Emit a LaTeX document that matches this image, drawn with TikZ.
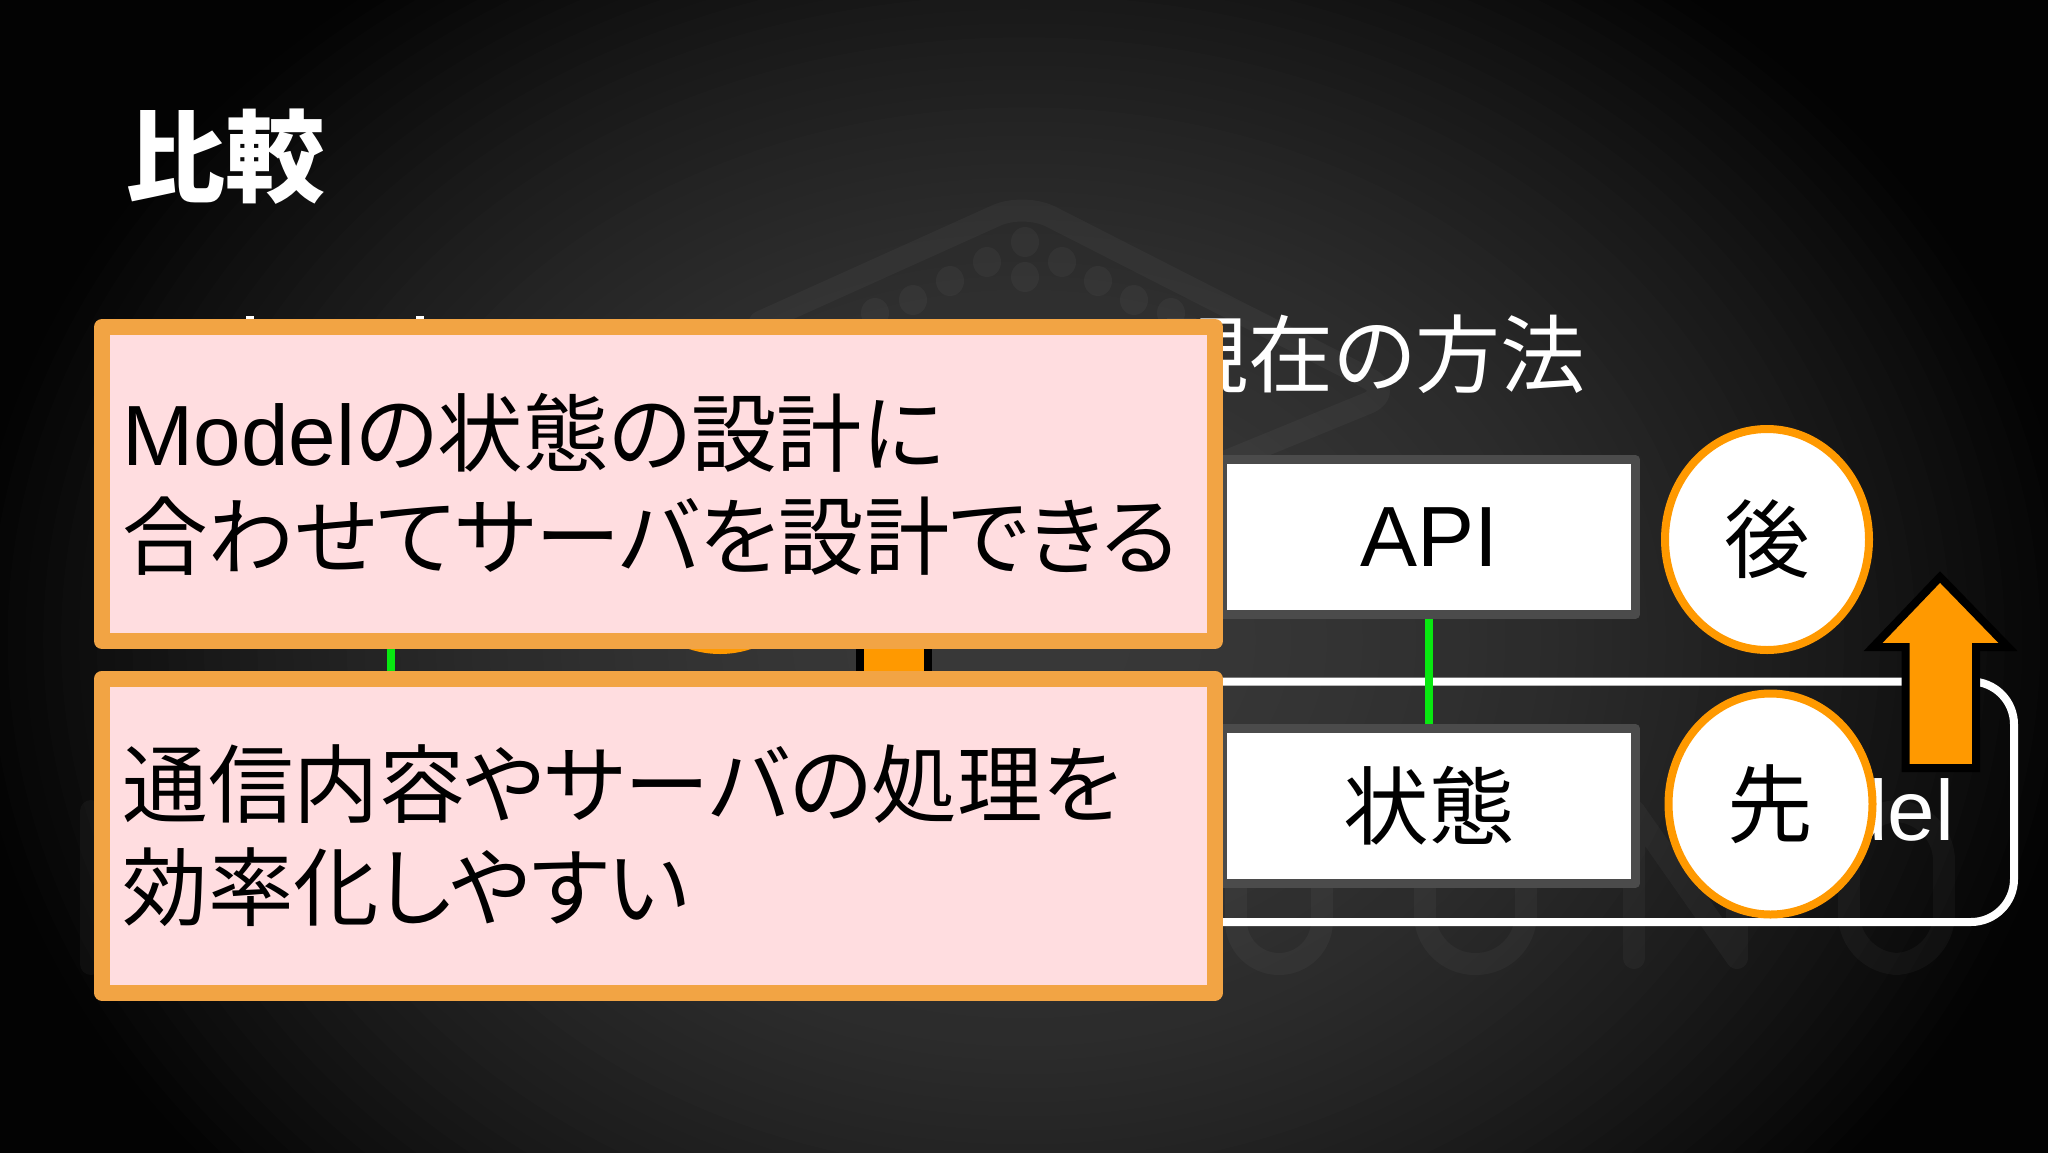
\documentclass[tikz,border=0pt]{standalone}
\usepackage{fontspec}
\setmainfont{Liberation Sans}
\newfontfamily\cjk[RawFeature=+palt]{Noto Sans CJK JP}
\usetikzlibrary{shapes.geometric}
\definecolor{boxorange}{HTML}{F2A444}
\definecolor{boxpink}{HTML}{FFDDE0}
\definecolor{markorange}{HTML}{FF9900}
\definecolor{linkgreen}{HTML}{08E810}
\definecolor{boxgray}{HTML}{4B4B4B}
\tikzset{
  bigtext/.style={font=\fontsize{85.5}{103}\selectfont},
  notebox/.style={draw=boxorange,fill=boxpink,line width=16pt,line join=round,rectangle,
    inner sep=0pt,inner xsep=20.5pt,text width=1072pt,minimum height=314pt,align=left,bigtext},
  layerbox/.style={draw=boxgray,fill=white,line width=9pt,line join=round,rectangle,
    inner sep=0pt,outer sep=4.5pt,minimum width=413pt,minimum height=154.5pt,text=black,bigtext},
  orderball/.style={draw=markorange,fill=white,line width=8pt,ellipse,inner sep=0pt,
    minimum width=204pt,minimum height=221pt,text=black,bigtext},
  linkline/.style={draw=linkgreen,line width=8.5pt},
  uparrow/.style={draw=black,fill=markorange,line width=8pt,miter limit=10},
  ghost/.style={draw=white,draw opacity=.035,line width=22pt,line cap=round,line join=round}
}
\begin{document}
\begin{tikzpicture}[x=1pt,y=-1pt]
  \useasboundingbox (0,0) rectangle (2048,1152);
  \begin{scope}
    \fill[black!99!white] (-4,-4) rectangle (2052,1158);
    \foreach \k in {60,59,...,1} {
      \pgfmathsetmacro\shadeval{78+21*(\k/60)^2}
      \fill[black!\shadeval!white] (1024,640) ellipse ({17.833*\k} and {14.017*\k});
    }
  \end{scope}
  \draw[ghost,rounded corners=30pt] (760,322) -- (1024,203) -- (1395,392) -- (1224,462);
  \foreach \px/\py in {1025/242,987/262,1062/262,950/281,1098/281,1025/277,913/300,1134/300,875/313,1171/313}
    \fill[white,opacity=.035] (\px,\py) ellipse (14 and 15);
  \draw[ghost] (91,811) -- (91,964);
  \draw[ghost,rounded corners=43pt] (1236,811) -- (1236,964) -- (1322,964) -- (1322,811) -- cycle;
  \draw[ghost,rounded corners=50pt] (1425,811) -- (1425,964) -- (1526,964) -- (1526,811);
  \draw[ghost] (1634,958) -- (1634,811) -- (1737,958) -- (1737,811);
  \draw[ghost,rounded corners=50pt] (1849,811) -- (1944,811) -- (1944,964) -- (1849,964) -- cycle;
  \node[white,font=\fontsize{100}{120}\selectfont\cjk\bfseries] (title) at (225,157) {比較};
  \node[white,anchor=base east,font=\fontsize{85}{100}\selectfont\cjk] (current) at (1589,386) {現在の方法};
  \fill[white] (246,316) rectangle (254,320);
  \fill[white] (416,316) rectangle (424,320);
  \node[draw=white,line width=8pt,rectangle,rounded corners=43pt,inner sep=0pt,
    minimum width=914pt,minimum height=240.5pt] (modelbox) at (1557,801.75) {};
  \node[layerbox] (apibox) at (1429,537) {API};
  \node[layerbox] (statebox) at (1429,806) {\cjk 状態};
  \draw[linkline] (apibox.south) -- (statebox.north);
  \node[white,anchor=base east,bigtext] (modellabel) at (1958,840) {Model};
  \node[orderball] (afterball) at (1767,539.5) {\cjk 後};
  \node[orderball] (firstball) at (1770.5,804) {\cjk 先};
  \draw[uparrow] (1940,577) -- (2008,647) -- (1976,647) -- (1976,768) -- (1905.5,768) -- (1905.5,647) -- (1873,647) -- cycle;
  \coordinate (oldapi) at (391,630);
  \coordinate (oldstate) at (391,690);
  \draw[linkline] (oldapi) -- (oldstate);
  \node[orderball] (oldball) at (720,539.5) {};
  \draw[uparrow] (860,630) rectangle (928,690);
  \node[notebox] (topnote) at (658.5,484) {Model{\cjk の状態の設計に}\\{\cjk 合わせてサーバを設計できる}};
  \node[notebox] (lownote) at (658.5,835.5) {{\cjk 通信内容やサーバの処理を}\\{\cjk 効率化しやすい}};
\end{tikzpicture}
\end{document}
